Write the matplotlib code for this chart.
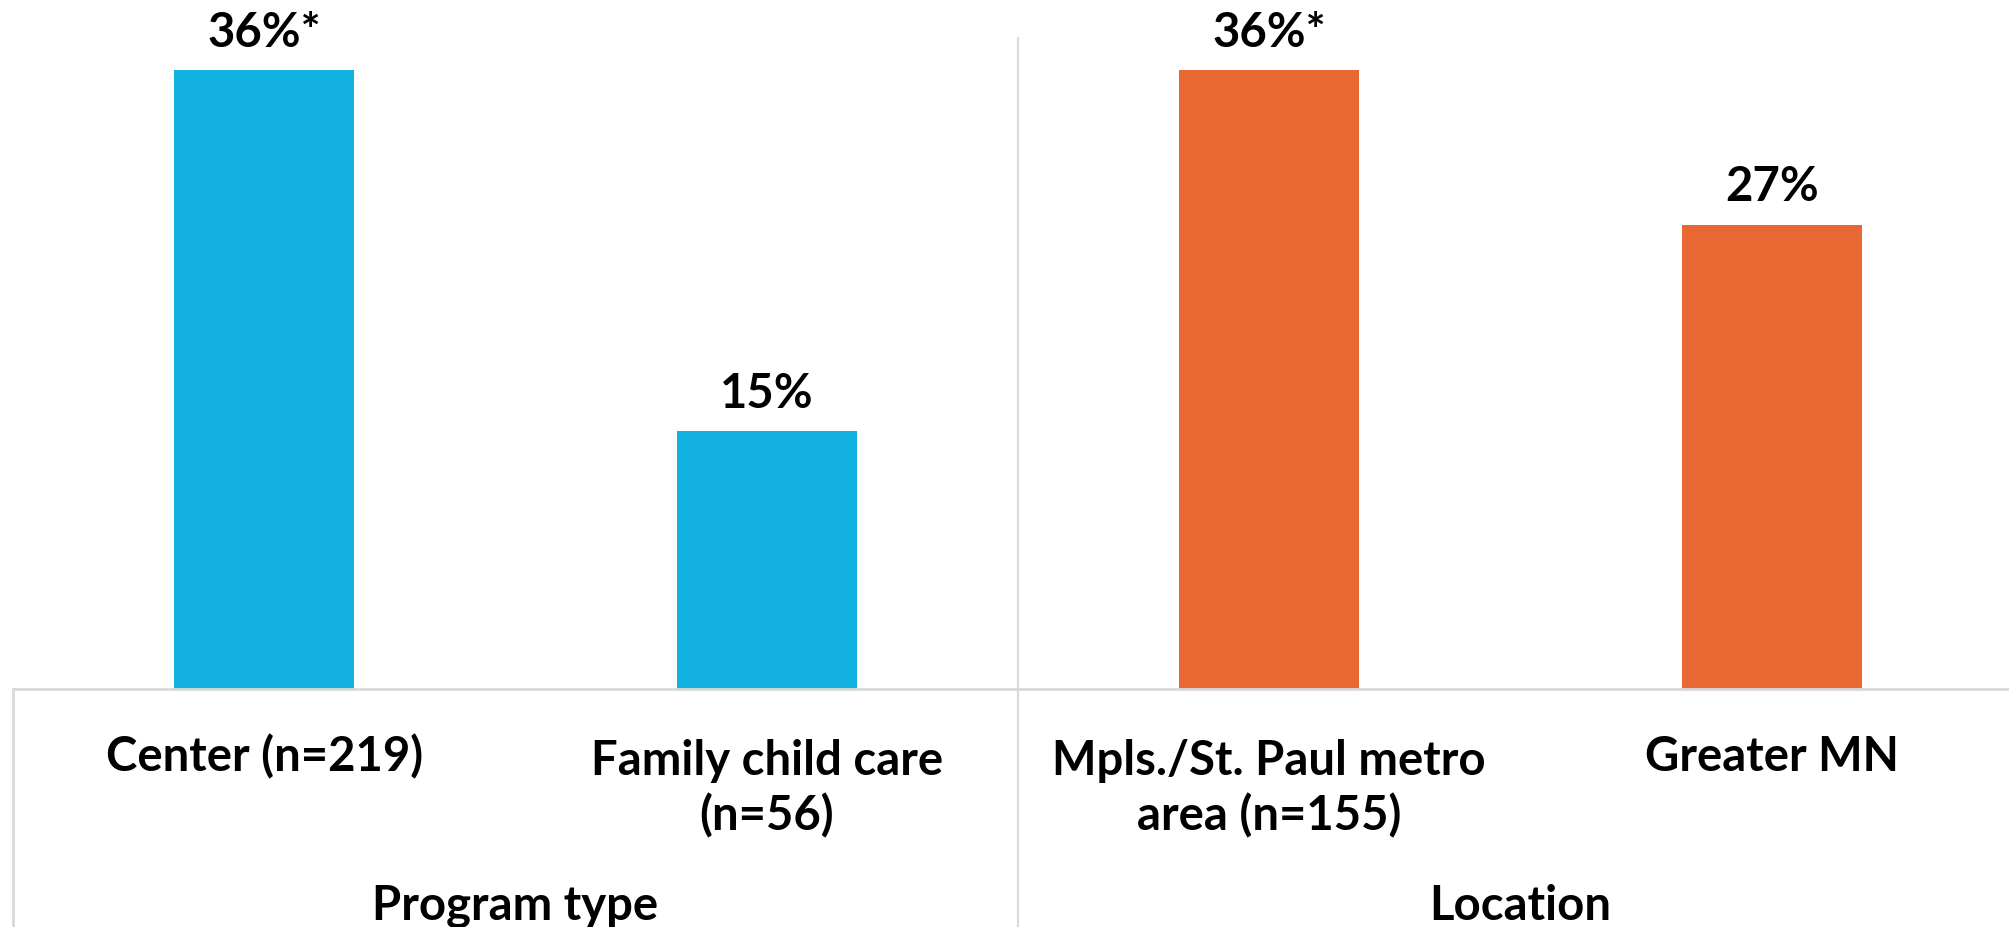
import matplotlib
matplotlib.use("Agg")
import matplotlib.pyplot as plt

categories = ["Center (n=219)", "Family child care\n(n=56)",
              "Mpls./St. Paul metro\narea (n=155)", "Greater MN"]
values = [36, 15, 36, 27]
value_labels = ["36%*", "15%", "36%*", "27%"]
groups = ["Program type", "Location"]
group_members = [[0, 1], [2, 3]]

blue = "#12B1E0"
orange = "#E86732"
grid_gray = "#D9D9D9"
bar_colors = [blue, blue, orange, orange]

plt.rcParams['font.family'] = ['Lato', 'DejaVu Sans']
plt.rcParams['font.weight'] = 'bold'

W, H = 2009, 927
fig = plt.figure(figsize=(W / 100, H / 100), dpi=100)
base_px = 689
ax = fig.add_axes([13 / W, (H - base_px) / H, (W - 13) / W, base_px / H])

x = list(range(len(categories)))
ax.bar(x, values, width=0.358, color=bar_colors)
ax.set_xlim(-0.5, 3.472)
ax.set_ylim(0, base_px / 17.19)

for xi, v, lab in zip(x, values, value_labels):
    ax.annotate(lab, (xi, v), xytext=(0, 27), textcoords="offset points",
                ha="center", va="center", fontsize=34, fontweight="bold")

for s in ["top", "right", "left"]:
    ax.spines[s].set_visible(False)
ax.spines["bottom"].set_color(grid_gray)
ax.spines["bottom"].set_linewidth(2)
ax.set_xticks([])
ax.set_yticks([])

tr = ax.get_xaxis_transform()
bottom_frac = (base_px - H) / base_px
# vertical separators
ax.plot([-0.5, -0.5], [0, bottom_frac], transform=tr, color=grid_gray,
        lw=2, clip_on=False)
ax.plot([1.5, 1.5], [(base_px - 38) / base_px, bottom_frac], transform=tr,
        color=grid_gray, lw=1.5, clip_on=False)

for xi, cat in zip(x, categories):
    nlines = cat.count("\n") + 1
    y_px = 757 + (nlines - 1) * 64 / 2
    ax.text(xi, (base_px - y_px) / base_px, cat, transform=tr, ha="center",
            va="center", fontsize=34, fontweight="bold", linespacing=1.28)

for g, members in zip(groups, group_members):
    gx = (members[0] + members[1]) / 2
    ax.text(gx, (base_px - 906) / base_px, g, transform=tr, ha="center",
            va="center", fontsize=34, fontweight="bold")

fig.savefig("out.png", dpi=100)
